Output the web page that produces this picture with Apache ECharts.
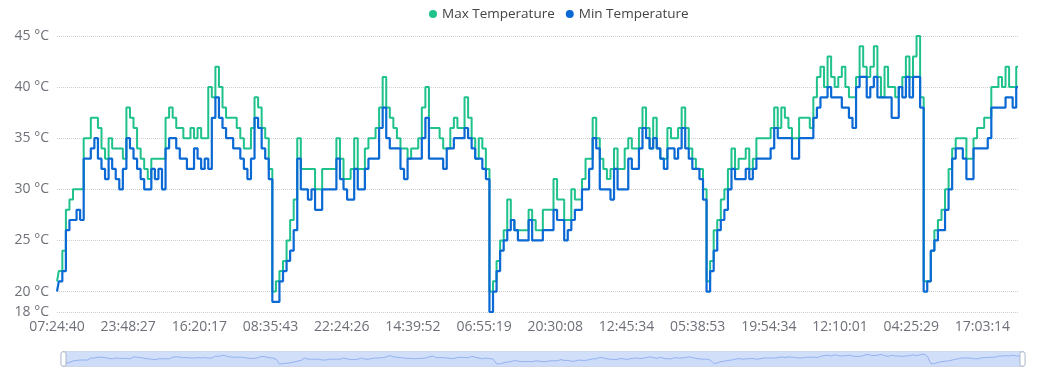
<!DOCTYPE html>
<html>
<head>
<meta charset="utf-8">
<script src="https://cdn.jsdelivr.net/npm/echarts@6/dist/echarts.min.js"></script>
<style>
html,body{margin:0;padding:0;background:#fff;}
#chart{width:1050px;height:369px;}
</style>
</head>
<body>
<div id="chart"></div>
<script>
const tickLabels = ['07:24:40','23:48:27','16:20:17','08:35:43','22:24:26','14:39:52','06:55:19','20:30:08','12:45:34','05:38:53','19:54:34','12:10:01','04:25:29','17:03:14'];

const maxTemps = [
21,22,24,28,29,30,30,30,35,35, 37,37,36,34,33,35,34,34,34,33, 38,37,36,34,33,32,31,33,33,33,
33,37,38,37,36,36,35,35,36,35, 36,35,35,40,39,42,40,38,37,37, 37,36,35,34,34,36,39,38,36,35,
32,20,21,22,23,25,
27,29,35,32,32,32,32,30,30,32, 32,32,32,35,33,31,31,32,35,32, 32,34,35,35,36,38,41,38,37,36,
35,34,34,33,34,34,35,38,40,36, 36,36,35,34,34,36,37,36,36,39, 37,35,33,35,34,32,20,21,23,25,
26,29,27,26,26,26,26,28,
27,26,26,28,28,28,31,29,29,27, 27,30,29,29,31,33,33,37,35,33, 32,31,32,34,32,32,34,35,34,34,
36,38,36,34,37,34,33,33,36,35, 35,36,38,36,34,33,32,32,30,21, 23,26,27,29,30,32,34,32,33,33,
34,32,33,35,35,35,35,
36,38,36,38,37,36,35,35,37,37, 37,36,39,41,42,40,43,41,40,41, 42,40,39,39,41,44,42,41,42,44,
41,39,42,40,40,39,40,41,43,41, 43,45,39,21,21,24,26,27,28,30, 32,34,35,35,35,33,33,35,36,36,
37,37,40,40,41,40,42,40,40,42
];

const minTemps = [
20,21,22,26,27,27,28,27,33,33, 34,35,33,32,31,33,32,31,30,32, 35,34,33,32,31,30,30,32,31,32,
30,34,35,35,34,33,33,32,32,34, 33,32,33,32,37,39,37,36,35,35, 34,34,33,32,31,33,37,36,34,33,
31,19,19,21,22,23,
24,26,33,30,30,29,30,28,28,30, 30,30,30,33,31,30,29,29,32,30, 30,32,33,33,33,36,38,35,34,34,
34,32,31,33,33,33,33,35,37,33, 33,33,33,32,34,34,35,35,35,36, 35,34,33,33,32,31,18,20,22,24,
25,26,27,26,25,25,25,27,
25,25,25,26,26,26,28,27,27,25, 26,27,28,28,30,30,32,35,34,30, 30,30,29,32,30,30,30,33,32,32,
34,36,35,34,35,34,33,32,34,34, 33,34,36,34,33,32,32,31,29,20, 22,24,26,27,28,30,32,31,31,31,
32,31,32,33,33,33,33,
34,36,35,35,35,35,33,33,35,35, 35,35,37,38,39,39,40,39,39,39, 38,38,37,36,40,41,41,39,40,41,
39,39,39,39,37,37,40,39,41,39, 41,41,38,20,21,24,25,26,26,28, 30,33,34,34,33,31,31,34,34,34,
34,35,38,38,38,38,39,39,38,40
];

const labelStep = 20;
const categories = maxTemps.map((_, i) => String(i));

const chart = echarts.init(document.getElementById('chart'));
chart.setOption({
  animation: false,
  textStyle: { fontFamily: 'Open Sans, Noto Sans, sans-serif' },
  legend: {
    data: ['Max Temperature', 'Min Temperature'],
    top: 2,
    left: 424,
    icon: 'circle',
    itemWidth: 8,
    itemHeight: 8,
    itemGap: 11,
    textStyle: { fontSize: 13.5, color: '#444' }
  },
  grid: { left: 57, right: 32, top: 36, bottom: 57 },
  xAxis: {
    type: 'category',
    boundaryGap: false,
    data: categories,
    axisLine: { show: false },
    axisTick: { show: false },
    axisLabel: {
      interval: labelStep - 1,
      fontSize: 14,
      color: '#6E7079',
      margin: 8,
      formatter: function (v, idx) {
        const k = idx / labelStep;
        return Number.isInteger(k) && tickLabels[k] ? tickLabels[k] : '';
      }
    }
  },
  yAxis: {
    type: 'value',
    min: 18,
    max: 45,
    axisLabel: { formatter: '{value} °C', fontSize: 14, color: '#6E7079' },
    splitLine: { lineStyle: { type: 'dotted', color: '#cfcfcf' } }
  },
  dataZoom: [
    { type: 'inside', start: 0, end: 100 },
    {
      type: 'slider', start: 0, end: 100, left: 60, right: 29, bottom: 2, height: 16,
      moveHandleSize: 0,
      showDetail: false,
      borderColor: '#cfd8ea',
      fillerColor: 'rgba(120,160,240,0.25)',
      backgroundColor: 'rgba(230,236,250,0.6)',
      handleIcon: 'path://M2,0h1a2,2,0,0,1,2,2v10a2,2,0,0,1,-2,2h-1a2,2,0,0,1,-2,-2v-10a2,2,0,0,1,2,-2z',
      handleSize: '90%',
      handleStyle: { color: '#fff', borderColor: '#a8b4c8', borderWidth: 1 },
      dataBackground: {
        lineStyle: { color: '#9db8f0', width: 1 },
        areaStyle: { color: 'rgba(170,195,245,0.35)' }
      },
      selectedDataBackground: {
        lineStyle: { color: '#9db8f0', width: 1 },
        areaStyle: { color: 'rgba(170,195,245,0.35)' }
      }
    }
  ],
  series: [
    {
      name: 'Max Temperature',
      type: 'line',
      step: 'middle',
      data: maxTemps,
      showSymbol: false,
      color: '#1fc28c',
      lineStyle: { width: 2, color: '#1fc28c' }
    },
    {
      name: 'Min Temperature',
      type: 'line',
      step: 'middle',
      data: minTemps,
      showSymbol: false,
      color: '#0a69d4',
      lineStyle: { width: 2.2, color: '#0a69d4' }
    }
  ]
});
</script>
</body>
</html>
